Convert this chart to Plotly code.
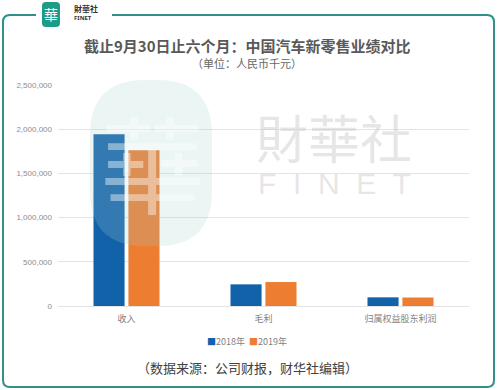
import plotly.graph_objects as go

categories = ["收入", "毛利", "归属权益股东利润"]
series_names = ["2018年", "2019年"]
values_2018 = [1943000, 245000, 98000]
values_2019 = [1762000, 271000, 96000]
y_ticks = [0, 500000, 1000000, 1500000, 2000000, 2500000]
colors = ["#1262AA", "#ED7D31"]

W, H = 500, 390
L, R, T, B = 58, 469, 85, 306

def px(x):
    return (x - L) / (R - L)

def py(y):
    return (B - y) / (B - T)

def rrect(xa, ya, xb, yb, r):
    return (f"M {px(xa+r)},{py(ya)} L {px(xb-r)},{py(ya)} Q {px(xb)},{py(ya)} {px(xb)},{py(ya+r)} "
            f"L {px(xb)},{py(yb-r)} Q {px(xb)},{py(yb)} {px(xb-r)},{py(yb)} "
            f"L {px(xa+r)},{py(yb)} Q {px(xa)},{py(yb)} {px(xa)},{py(yb-r)} "
            f"L {px(xa)},{py(ya+r)} Q {px(xa)},{py(ya)} {px(xa+r)},{py(ya)} Z")

fig = go.Figure()
for name, vals, c in zip(series_names, [values_2018, values_2019], colors):
    fig.add_trace(go.Bar(name=name, x=categories, y=vals,
                         marker=dict(color=c, line=dict(width=0))))

r = 7
x0, x1, y0, y1 = 3, 494, 15, 387
border = (f"M {px(112)},{py(y0)} L {px(x1-r)},{py(y0)} Q {px(x1)},{py(y0)} {px(x1)},{py(y0+r)} "
          f"L {px(x1)},{py(y1-r)} Q {px(x1)},{py(y1)} {px(x1-r)},{py(y1)} "
          f"L {px(x0+r)},{py(y1)} Q {px(x0)},{py(y1)} {px(x0)},{py(y1-r)} "
          f"L {px(x0)},{py(y0+r)} Q {px(x0)},{py(y0)} {px(x0+r)},{py(y0)} L {px(36)},{py(y0)}")
shapes = [
    dict(type="path", xref="paper", yref="paper", path=border,
         line=dict(color="#2F9089", width=2), layer="above"),
    dict(type="path", xref="paper", yref="paper", path=rrect(90, 80, 212, 246, 55),
         fillcolor="rgba(165,208,203,0.22)", line=dict(width=0), layer="above"),
    dict(type="path", xref="paper", yref="paper", path=rrect(42, 2, 60, 27, 4),
         fillcolor="#1E9C88", line=dict(width=0), layer="above"),
]

def ann(text, x, y, size, color, family="Noto Sans CJK SC", xanchor="center"):
    return dict(text=text, x=px(x), y=py(y), xref="paper", yref="paper", showarrow=False,
                xanchor=xanchor, yanchor="middle", font=dict(size=size, color=color, family=family))

legend_text = (f"<span style='color:{colors[0]}'>■</span>{series_names[0]}  "
               f"<span style='color:{colors[1]}'>■</span>{series_names[1]}")

annotations = [
    ann("華", 152, 160, 105, "rgba(255,255,255,0.42)", "Noto Sans CJK TC"),
    ann("財華社", 334, 141, 52, "rgba(200,200,200,0.45)", "Liberation Sans, Noto Sans CJK TC"),
    ann("F  I  N  E  T", 334, 183, 30, "rgba(200,200,200,0.45)", "Liberation Sans"),
    ann("華", 51, 14, 14, "white", "Noto Sans CJK TC"),
    ann("<b>財華社</b>", 72, 9, 8, "#333333", "Noto Sans CJK TC", "left"),
    ann("<b>FINET</b>", 72, 18, 6, "#333333", "Noto Sans", "left"),
    ann("<b>截止9月30日止六个月：中国汽车新零售业绩对比</b>", 247, 46, 15, "#595959"),
    ann("（单位：人民币千元）", 247, 63, 11, "#666666"),
    ann(legend_text, 247, 341, 9, "#7f7f7f"),
    ann("（数据来源：公司财报，财华社编辑）", 247, 367, 13, "#404040"),
]

fig.update_layout(
    width=W, height=H,
    margin=dict(l=L, r=W - R, t=T, b=H - B, pad=0),
    paper_bgcolor="white", plot_bgcolor="white",
    barmode="group", bargap=0.49, bargroupgap=0.11,
    font=dict(family="Noto Sans CJK SC", size=9, color="#7f7f7f"),
    showlegend=False,
    shapes=shapes, annotations=annotations,
)
fig.update_yaxes(range=[0, 2500000], tickvals=y_ticks, tickformat=",d",
                 gridcolor="#E3E3E3", gridwidth=1, zeroline=False, showline=False,
                 tickfont=dict(size=8, color="#8c8c8c", family="Liberation Sans"),
                 ticks="", ticklabelstandoff=5)
fig.update_xaxes(showline=True, linecolor="#E3E3E3", linewidth=1, ticks="",
                 tickfont=dict(size=9, color="#7f7f7f"), ticklabelstandoff=4)

fig.write_html("out.html", config={"displayModeBar": False},
               post_script="document.body.style.margin='0';")
